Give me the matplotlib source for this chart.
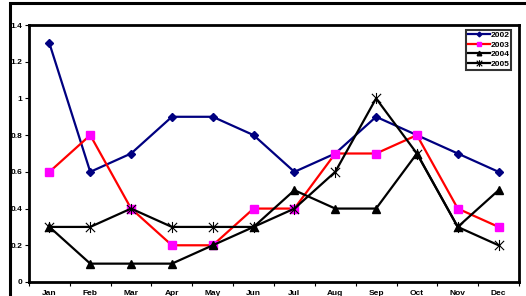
import matplotlib
matplotlib.use("Agg")
import matplotlib.pyplot as plt
from matplotlib.path import Path
from matplotlib.patches import Rectangle

months = ["Jan", "Feb", "Mar", "Apr", "May", "Jun", "Jul", "Aug", "Sep", "Oct", "Nov", "Dec"]
s2002 = [1.3, 0.6, 0.7, 0.9, 0.9, 0.8, 0.6, 0.7, 0.9, 0.8, 0.7, 0.6]
s2003 = [0.6, 0.8, 0.4, 0.2, 0.2, 0.4, 0.4, 0.7, 0.7, 0.8, 0.4, 0.3]
s2004 = [0.3, 0.1, 0.1, 0.1, 0.2, 0.3, 0.5, 0.4, 0.4, 0.7, 0.3, 0.5]
s2005 = [0.3, 0.3, 0.4, 0.3, 0.3, 0.3, 0.4, 0.6, 1.0, 0.7, 0.3, 0.2]
yticks = [0, 0.2, 0.4, 0.6, 0.8, 1, 1.2, 1.4]
ytick_labels = ["0", "0.2", "0.4", "0.6", "0.8", "1", "1.2", "1.4"]

plt.rcParams['font.family'] = ['Liberation Sans', 'DejaVu Sans']

fig = plt.figure(figsize=(5.26, 2.96), dpi=100)
# outer chart border
fig.patches.append(Rectangle((10/526, -0.1), 1.5, 1.1 - 3/296, transform=fig.transFigure,
                             fill=False, edgecolor='black', linewidth=2.2))
ax = fig.add_axes([29/526, 14/296, 490/526, 257/296])

star = Path([(-1, -1), (1, 1), (-1, 1), (1, -1), (0, -1.2), (0, 1.2)],
            [Path.MOVETO, Path.LINETO, Path.MOVETO, Path.LINETO, Path.MOVETO, Path.LINETO])

x = list(range(len(months)))
ax.plot(x, s2002, color='#000080', lw=1.6, marker='D', ms=4, mfc='#000080', mec='#000080', label='2002')
ax.plot(x, s2003, color='#FF0000', lw=1.6, marker='s', ms=5.5, mfc='#FF00FF', mec='#FF00FF', label='2003')
ax.plot(x, s2004, color='black', lw=1.6, marker='^', ms=5.5, label='2004')
ax.plot(x, s2005, color='black', lw=1.6, marker=star, ms=8, mew=0.8, label='2005')

ax.set_xlim(-0.5, 11.5)
ax.set_ylim(0, 1.4)
ax.set_yticks(yticks)
ax.set_yticklabels(ytick_labels, fontsize=6, fontweight='bold')
ax.set_xticks(x)
ax.set_xticklabels(months, fontsize=6, fontweight='bold')
ax.set_xticks([i + 0.5 for i in range(-1, 12)], minor=True)
ax.tick_params(axis='x', which='major', length=0, pad=6)
ax.tick_params(axis='x', which='minor', length=3, width=0.8, direction='out')
ax.tick_params(axis='y', length=3, width=0.8, direction='out', pad=2)
for sp in ax.spines.values():
    sp.set_linewidth(2)

leg = ax.legend(loc='upper right', bbox_to_anchor=(0.984, 0.981), prop={'size': 6, 'weight': 'bold'},
                frameon=True, fancybox=False, edgecolor='black', borderpad=0.2, labelspacing=0.2,
                handlelength=2.6, handletextpad=0.1, borderaxespad=0, markerscale=0.6)
leg.get_frame().set_linewidth(1.5)

fig.savefig("out.png", dpi=100)
